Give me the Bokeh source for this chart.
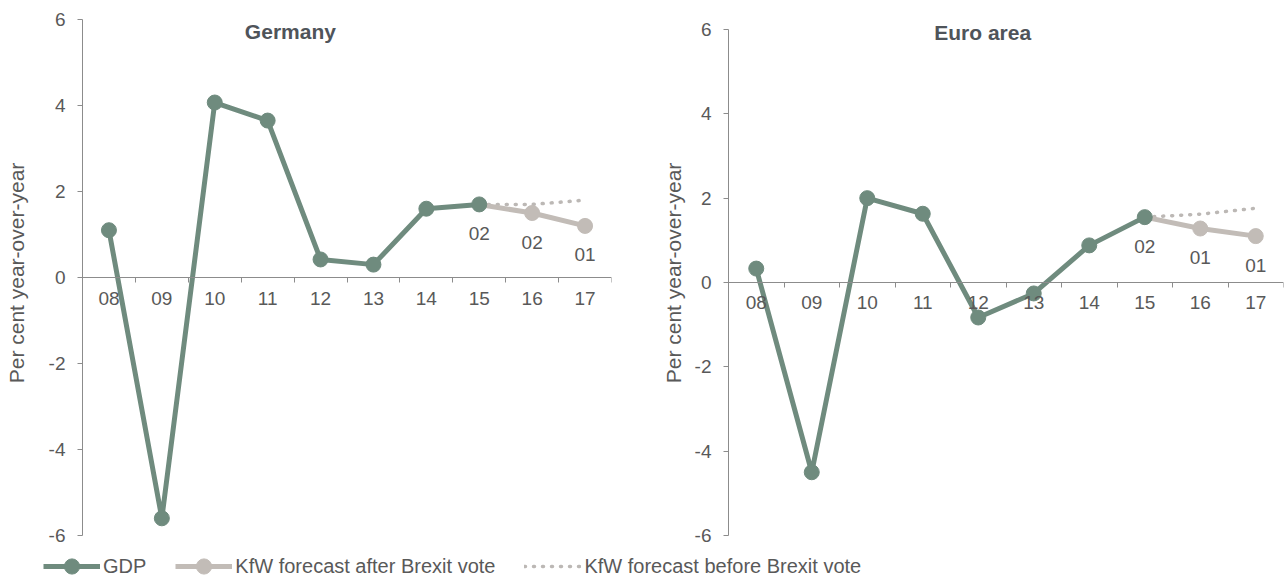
import math
from bokeh.plotting import figure
from bokeh.layouts import column, row
from bokeh.models import FixedTicker, Label, Legend, LegendItem, ColumnDataSource
from bokeh.embed import file_html
from bokeh.resources import INLINE
from bokeh.core.properties import value

# ---------------- data ----------------
years = ["08", "09", "10", "11", "12", "13", "14", "15", "16", "17"]
forecast_years = ["15", "16", "17"]

de_gdp = [1.1, -5.6, 4.07, 3.65, 0.42, 0.3, 1.6, 1.7]
de_after = [1.7, 1.5, 1.2]
de_before = [1.7, 1.7, 1.8]
de_labels = ["02", "02", "01"]

ea_gdp = [0.33, -4.5, 2.0, 1.63, -0.83, -0.26, 0.88, 1.55]
ea_after = [1.55, 1.28, 1.1]
ea_before = [1.55, 1.62, 1.76]
ea_labels = ["02", "01", "01"]

y_ticks = [-6, -4, -2, 0, 2, 4, 6]

# ---------------- style ----------------
FONT = "Liberation Sans"
GREEN = "#6f8b7e"
GREY = "#c2bcb7"
DOT = "#bcb8b5"
TXT = "#595959"
TITLE = "#4f545a"
AXIS = "#8c8c8c"

xpos = {y: i + 0.5 for i, y in enumerate(years)}


def panel(title, gdp, after, before, labels, left, right, y_top, title_x, title_y, label_standoff):
    p = figure(width=642, height=550, output_backend="svg", toolbar_location=None,
               x_range=(0, len(years)), y_range=(y_ticks[0], y_top),
               min_border_left=left, min_border_right=right,
               min_border_top=10, min_border_bottom=15)
    p.outline_line_color = None
    p.grid.visible = False
    p.background_fill_color = "white"
    p.border_fill_color = "white"

    # x axis at zero, Excel-style ticks between categories
    xa = p.xaxis[0]
    xa.fixed_location = 0
    xa.ticker = FixedTicker(ticks=[xpos[y] for y in years], minor_ticks=list(range(len(years) + 1)))
    xa.major_label_overrides = {xpos[y]: y for y in years}
    xa.major_tick_in = 0
    xa.major_tick_out = 0
    xa.minor_tick_in = 0
    xa.minor_tick_out = 5
    xa.minor_tick_line_color = AXIS
    xa.axis_line_color = AXIS
    xa.major_label_standoff = 9
    xa.major_label_text_font = FONT
    xa.major_label_text_font_size = "19px"
    xa.major_label_text_color = TXT

    ya = p.yaxis[0]
    ya.ticker = FixedTicker(ticks=y_ticks)
    ya.bounds = (y_ticks[0], y_ticks[-1])
    ya.major_label_overrides = {t: str(t) for t in y_ticks}
    ya.minor_tick_line_color = None
    ya.major_tick_in = 0
    ya.major_tick_out = 5
    ya.major_tick_line_color = AXIS
    ya.axis_line_color = AXIS
    ya.major_label_standoff = 12
    ya.major_label_text_font = FONT
    ya.major_label_text_font_size = "19px"
    ya.major_label_text_color = TXT
    ya.axis_label = "Per cent year-over-year"
    ya.axis_label_text_font = FONT
    ya.axis_label_text_font_size = "21px"
    ya.axis_label_text_font_style = "normal"
    ya.axis_label_text_color = TXT
    ya.axis_label_standoff = label_standoff

    gx = [xpos[y] for y in years[:len(gdp)]]
    fx = [xpos[y] for y in forecast_years]

    p.line(fx, before, line_color=DOT, line_width=3.5, line_dash="1 8", line_cap="round")
    p.line(fx, after, line_color=GREY, line_width=5)
    p.scatter(fx[1:], after[1:], size=15, fill_color=GREY, line_color=GREY)
    p.line(gx, gdp, line_color=GREEN, line_width=5)
    p.scatter(gx, gdp, size=15, fill_color=GREEN, line_color=GREEN)

    src = ColumnDataSource(dict(x=fx, y=after, t=labels))
    p.text(x="x", y="y", text="t", source=src, y_offset=29, text_align="center",
           text_baseline="middle", text_font=value(FONT), text_font_size="19px", text_color=TXT)

    p.add_layout(Label(x=title_x, y=title_y, text=title, text_align="center", text_baseline="middle",
                       text_font=FONT, text_font_size="21px", text_font_style="bold", text_color=TITLE))
    return p


p1 = panel("Germany", de_gdp, de_after, de_before, de_labels,
           left=82, right=31, y_top=6.21, title_x=3.93, title_y=5.72, label_standoff=18)
p2 = panel("Euro area", ea_gdp, ea_after, ea_before, ea_labels,
           left=86, right=1, y_top=6.45, title_x=4.58, title_y=5.93, label_standoff=7)

# ---------------- legend strip ----------------
pl = figure(width=1284, height=25, output_backend="svg", toolbar_location=None,
            x_range=(0, 1), y_range=(0, 1), min_border=0)
pl.axis.visible = False
pl.grid.visible = False
pl.outline_line_color = None
nan = [math.nan]
l1 = pl.line(nan, nan, line_color=GREEN, line_width=5)
s1 = pl.scatter(nan, nan, size=15, fill_color=GREEN, line_color=GREEN)
l2 = pl.line(nan, nan, line_color=GREY, line_width=5)
s2 = pl.scatter(nan, nan, size=15, fill_color=GREY, line_color=GREY)
l3 = pl.line(nan, nan, line_color=DOT, line_width=3.5, line_dash="1 8", line_cap="round")
leg = Legend(items=[LegendItem(label="GDP", renderers=[l1, s1]),
                    LegendItem(label="KfW forecast after Brexit vote", renderers=[l2, s2]),
                    LegendItem(label="KfW forecast before Brexit vote", renderers=[l3])],
             orientation="horizontal", location=(43, -10), padding=0, margin=0, spacing=29,
             glyph_width=57, glyph_height=38, label_standoff=3, label_height=38,
             border_line_color=None, background_fill_alpha=0,
             label_text_font=FONT, label_text_font_size="20px", label_text_color=TXT)
pl.add_layout(leg, "center")

layout = column(row(p1, p2), pl)
open("out.html", "w").write(file_html(layout, INLINE))
